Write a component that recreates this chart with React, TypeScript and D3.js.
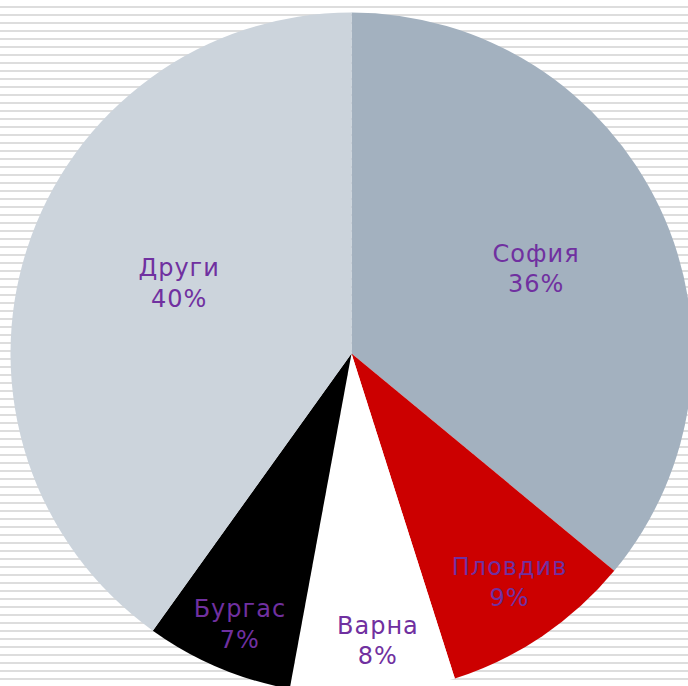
import React from "react";
import * as d3 from "d3";

const categories = ["София", "Пловдив", "Варна", "Бургас", "Други"];
const values = [36.0, 9.1, 7.8, 7.0, 40.1];
const labels = ["36%", "9%", "8%", "7%", "40%"];
const colors = ["#a3b1bf", "#cc0000", "#ffffff", "#000000", "#ccd4dc"];
const labelRadiusFactor = [0.586, 0.835, 0.87, 0.882, 0.537];
const labelAngleShiftDeg = [2.7, 0.3, -1.5, -1.25, 1.9];

const W = 688;
const H = 686;

export default function App() {
  const cx = 351.5;
  const cy = 353.5;
  const r = 341;
  const pie = d3.pie<number>().sort(null).value((d) => d)(values);
  const arc = d3.arc<d3.PieArcDatum<number>>().innerRadius(0).outerRadius(r);
  const stripes = d3.range(6, H, 8);
  return (
    <div style={{ position: "fixed", left: 0, top: 0 }}>
      <svg width={W} height={H} style={{ display: "block" }}>
        <rect width={W} height={H} fill="#ffffff" />
        {stripes.map((y) => (
          <rect key={y} x={0} y={y} width={W} height={2} fill="#dddddd" />
        ))}
        <g transform={`translate(${cx},${cy})`}>
          {pie.map((p, i) => (
            <path key={i} d={arc(p) || ""} fill={colors[i]} />
          ))}
          {pie.map((p, i) => {
            const a = (p.startAngle + p.endAngle) / 2 + (labelAngleShiftDeg[i] * Math.PI) / 180;
            const lr = r * labelRadiusFactor[i];
            const x = lr * Math.sin(a);
            const y = -lr * Math.cos(a);
            return (
              <text
                key={"t" + i}
                x={x}
                y={y}
                fill="#7030a0"
                fontFamily="DejaVu Sans, Verdana, sans-serif"
                fontSize={24}
                letterSpacing={1}
                textAnchor="middle"
              >
                <tspan x={x} y={y - 15.3}>{categories[i]}</tspan>
                <tspan x={x} y={y + 15.3}>{labels[i]}</tspan>
              </text>
            );
          })}
        </g>
      </svg>
    </div>
  );
}
